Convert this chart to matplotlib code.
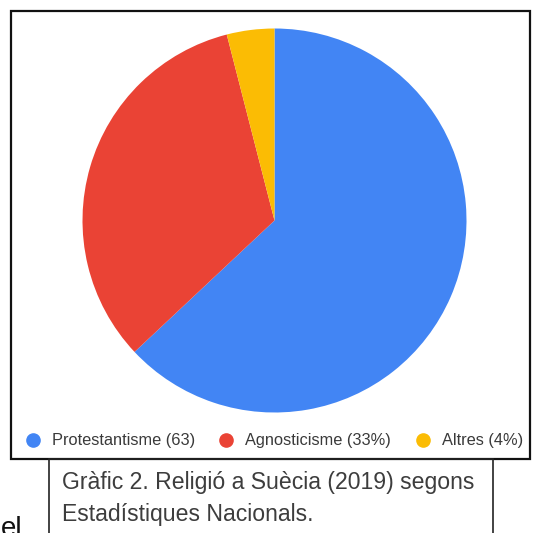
import matplotlib.pyplot as plt
from matplotlib.patches import Rectangle
from matplotlib.lines import Line2D

labels = ["Protestantisme (63)", "Agnosticisme (33%)", "Altres (4%)"]
values = [63, 33, 4]
colors = ["#4285F4", "#EA4335", "#FBBC04"]
caption = ["Gràfic 2. Religió a Suècia (2019) segons", "Estadístiques Nacionals."]

W = H = 533
plt.rcParams["font.family"] = ["Liberation Sans", "DejaVu Sans"]


def px(x, y):
    # pixel coords (from top-left) to figure fraction
    return x / W, 1 - y / H


fig = plt.figure(figsize=(W / 100, H / 100), dpi=100)

# pie
cx, cy, r = 274.5, 220.5, 192
ax = fig.add_axes([(cx - r) / W, 1 - (cy + r) / H, 2 * r / W, 2 * r / H])
ax.pie(values, colors=colors, startangle=90, counterclock=False,
       wedgeprops={"linewidth": 0})
ax.set_xlim(-1, 1)
ax.set_ylim(-1, 1)
ax.axis("off")

# outer frame
x0, y0 = px(11, 459)
x1, y1 = px(530, 11)
fig.add_artist(Rectangle((x0, y0), x1 - x0, y1 - y0, transform=fig.transFigure,
                         fill=False, edgecolor="#111111", linewidth=1.6))

# legend
mark_x = [33, 226, 423]
for lab, col, mx in zip(labels, colors, mark_x):
    fx, fy = px(mx, 440)
    fig.add_artist(Line2D([fx], [fy], marker="o", markersize=9.5, color=col,
                          linestyle="none", transform=fig.transFigure))
    tx, ty = px(mx + 19, 440)
    fig.text(tx, ty, lab, fontsize=11.8, color="#3a3a3a", va="center", ha="left")

# caption box
bx0, by0 = px(49, 545)
bx1, by1 = px(493, 459)
fig.add_artist(Rectangle((bx0, by0), bx1 - bx0, by1 - by0, transform=fig.transFigure,
                         fill=False, edgecolor="#222222", linewidth=1.2))
for i, line in enumerate(caption):
    tx, ty = px(62, 483 + 31 * i)
    fig.text(tx, ty, line, fontsize=16.6, color="#3d3d3d", va="center", ha="left")

tx, ty = px(1, 536)
fig.text(tx, ty, "el", fontsize=20, color="#111111", va="baseline", ha="left")

fig.savefig("out.png", dpi=100)
